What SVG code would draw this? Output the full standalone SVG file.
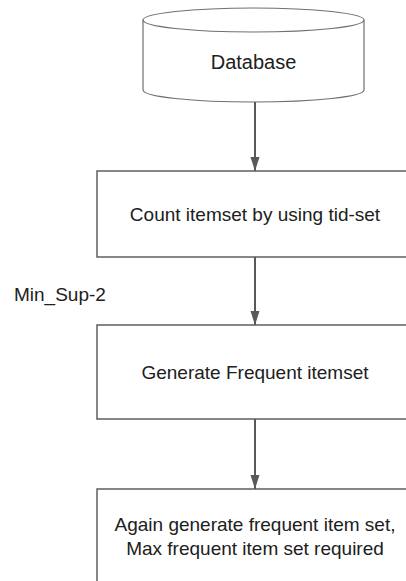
<svg xmlns="http://www.w3.org/2000/svg" width="406" height="581" viewBox="0 0 406 581">
  <style>
    .box { fill: #ffffff; stroke: #5f5f5f; stroke-width: 1.5; }
    .cyl { fill: #ffffff; stroke: #6f6f6f; stroke-width: 1.2; }
    .lbl { font-family: "Liberation Sans", Arial, sans-serif; font-size: 19px; fill: #202020; text-anchor: middle; }
    .big { font-size: 20px; }
    .note { font-family: "Liberation Sans", Arial, sans-serif; font-size: 19px; fill: #202020; }
    .edge { stroke: #595959; stroke-width: 2; fill: none; marker-end: url(#head); }
  </style>
  <defs>
    <marker id="head" markerUnits="userSpaceOnUse" markerWidth="14" markerHeight="10" refX="14" refY="5" viewBox="0 0 14 10" orient="auto">
      <path d="M0,0.5 L14,5 L0,9.5 Z" fill="#595959"/>
    </marker>
  </defs>
  <rect width="406" height="581" fill="#ffffff"/>

  <g id="database">
    <path class="cyl" d="M143,20 V90 A110.5,12 0 0 0 364,90 V20"/>
    <ellipse class="cyl" cx="253.5" cy="20" rx="110.5" ry="12"/>
    <text class="lbl big" x="253.5" y="69">Database</text>
  </g>

  <g id="count">
    <rect class="box" x="97" y="171" width="316" height="86"/>
    <text class="lbl" x="255" y="221">Count itemset by using tid-set</text>
  </g>

  <g id="minsup">
    <text class="note" x="14" y="300.5">Min_Sup-2</text>
  </g>

  <g id="generate">
    <rect class="box" x="97" y="325" width="316" height="94"/>
    <text class="lbl" x="255" y="379">Generate Frequent itemset</text>
  </g>

  <g id="again">
    <rect class="box" x="97" y="489" width="316" height="110"/>
    <text class="lbl" x="255" y="531">Again generate frequent item set,</text>
    <text class="lbl" x="255" y="554.5">Max frequent item set required</text>
  </g>

  <g id="connectors">
    <line class="edge" x1="255" y1="102" x2="255" y2="171"/>
    <line class="edge" x1="255" y1="257" x2="255" y2="325"/>
    <line class="edge" x1="255" y1="419" x2="255" y2="489"/>
  </g>
</svg>
